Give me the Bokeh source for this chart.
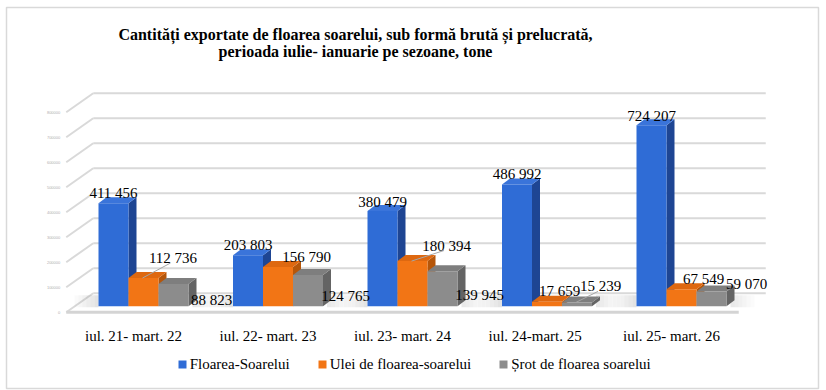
from bokeh.plotting import figure
from bokeh.models import Range1d, Legend, LegendItem
from bokeh.core.properties import value
from bokeh.embed import file_html
from bokeh.resources import INLINE

# ---------------- data ----------------
categories = ["iul. 21- mart. 22", "iul. 22- mart. 23", "iul. 23- mart. 24",
              "iul. 24-mart.  25", "iul. 25- mart. 26"]
series_names = ["Floarea-Soarelui", "Ulei de floarea-soarelui", "Șrot de floarea soarelui"]
floarea = [411456, 203803, 380479, 486992, 724207]
ulei = [112736, 156790, 180394, 17659, 67549]
srot = [88823, 124765, 139945, 15239, 59070]
y_ticks = [0, 100000, 200000, 300000, 400000, 500000, 600000, 700000, 800000]
title_lines = ["Cantități exportate de floarea soarelui, sub formă brută și prelucrată,",
               "perioada iulie- ianuarie pe sezoane, tone"]

# ---------------- layout / style ----------------
PX_CAT = 134.5          # px per category unit
PX_T = 0.00025          # px per tonne
W, H = 826, 390
FL, FT, FR, FB = 6, 7, 818, 388   # frame edges (page px)
CAT0_PAGE_X = 133.0
ZERO_PAGE_Y = 311.7

def px_x(px):
    return px / PX_CAT

def px_y(px):
    return px / PX_T

BAR_W = 30
BAR_OFF = [-35, -5, 25]
BASE = px_y(6)
DDX, DDY = px_x(8), px_y(6)
WALL_DX, WALL_DY = px_x(27), px_y(19)

front_col = ["#2F6CD6", "#F27515", "#8C8C8C"]
side_col = ["#1E4593", "#B5560A", "#646464"]
top_col = ["#3A74DA", "#DE6810", "#7E7E7E"]

# label offsets (px): dx from bar centre, dy (down-positive) of baseline from bar front top
lab_dx = [[0, 0, 0, 0, 0], [29.5, 28.5, 34, 12.5, 22], [38, 37.5, 37, 23.5, 35]]
lab_dy = [[-10, -10, -9.5, -10, -9], [-20, -10.5, -15.6, -11, -10.5], [15.8, 20.5, 23.3, -16, -7.6]]
leader = [[0, 0, 0, 0, 0], [1, 0, 1, 0, 0], [0, 0, 0, 1, 0]]

x0 = (FL - CAT0_PAGE_X) / PX_CAT
x1 = (FR - CAT0_PAGE_X) / PX_CAT
y1 = (ZERO_PAGE_Y - FT) / PX_T
y0 = (ZERO_PAGE_Y - FB) / PX_T

p = figure(width=W, height=H, output_backend="svg", toolbar_location=None,
           x_axis_type=None, y_axis_type=None,
           min_border_left=FL, min_border_top=FT, min_border_right=W - FR, min_border_bottom=H - FB,
           x_range=Range1d(x0, x1), y_range=Range1d(y0, y1))
p.grid.visible = False
p.outline_line_color = "#D9D9D9"
p.outline_line_width = 1.5
p.background_fill_color = "white"
p.border_fill_color = "white"

n = len(categories)
left_edge, right_edge = -0.5, n - 0.5

# back-wall gridlines and left-wall diagonals
p.segment(x0=[left_edge + WALL_DX] * len(y_ticks), y0=[t + WALL_DY for t in y_ticks],
          x1=[right_edge + WALL_DX] * len(y_ticks), y1=[t + WALL_DY for t in y_ticks],
          line_color="#D9D9D9", line_width=2)
p.segment(x0=[left_edge] * len(y_ticks), y0=y_ticks,
          x1=[left_edge + WALL_DX] * len(y_ticks), y1=[t + WALL_DY for t in y_ticks],
          line_color="#D9D9D9", line_width=2)
# floor front edge
p.segment(x0=[left_edge], y0=[0], x1=[right_edge], y1=[0], line_color="#D4D4D4", line_width=3)

# tiny tick labels
p.text(x=[left_edge - px_x(6)] * len(y_ticks), y=y_ticks, text=[str(t) for t in y_ticks],
       text_font=value("Liberation Sans"), text_font_size="4px", text_color="#B0B0B0",
       text_align="right", text_baseline="middle")

# floor shadows (faked gradient strips)
for i in range(n):
    for s in range(6):
        a = 0.035 * (s + 1)
        l = i + px_x(BAR_OFF[0] - 24 + 4 * s)
        p.quad(left=[l], right=[l + px_x(4)], bottom=[px_y(5)], top=[px_y(17)],
               fill_color="#7A7A7A", fill_alpha=a, line_color=None)
        r = i + px_x(BAR_OFF[2] + BAR_W + 8 + 20 - 4 * s)
        p.quad(left=[r - px_x(4)], right=[r], bottom=[px_y(5)], top=[px_y(17)],
               fill_color="#7A7A7A", fill_alpha=a * 0.8, line_color=None)

# bars
series = [floarea, ulei, srot]
fronts = []
for k, vals in enumerate(series):
    lefts = [i + px_x(BAR_OFF[k]) for i in range(n)]
    rights = [l + px_x(BAR_W) for l in lefts]
    tops = [BASE + v for v in vals]
    side_xs = [[r, r + DDX, r + DDX, r] for r in rights]
    side_ys = [[BASE, BASE + DDY, t + DDY, t] for t in tops]
    top_xs = [[l, r, r + DDX, l + DDX] for l, r in zip(lefts, rights)]
    top_ys = [[t, t, t + DDY, t + DDY] for t in tops]
    p.patches(side_xs, side_ys, fill_color=side_col[k], line_color=None)
    p.patches(top_xs, top_ys, fill_color=top_col[k], line_color=None)
    fr = p.quad(left=lefts, right=rights, bottom=[BASE] * n, top=tops,
                fill_color=front_col[k], line_color=None)
    fronts.append(fr)

# data labels + leaders
for k, vals in enumerate(series):
    cx = [i + px_x(BAR_OFF[k] + BAR_W / 2 + lab_dx[k][i]) for i in range(n)]
    cy = [BASE + v - px_y(lab_dy[k][i]) for i, v in enumerate(vals)]
    txt = [f"{v:,}".replace(",", " ") for v in vals]
    p.text(x=cx, y=cy, text=txt, text_font=value("Liberation Serif"), text_font_size="15px",
           text_color="#000000", text_align="center", text_baseline="alphabetic")
    for i, v in enumerate(vals):
        if leader[k][i]:
            sx = i + px_x(BAR_OFF[k] + BAR_W / 2 - 1)
            sy = BASE + v
            p.segment(x0=[sx], y0=[sy], x1=[cx[i] - px_x(2.5)], y1=[cy[i] - px_y(5)],
                      line_color="#A6A6A6", line_width=1)

# category labels
p.text(x=list(range(n)), y=[(ZERO_PAGE_Y - 335) / PX_T] * n, text=categories,
       text_font=value("Liberation Serif"), text_font_size="15px", text_color="#000000",
       text_align="center", text_baseline="alphabetic")

# title
title_x = (355 - CAT0_PAGE_X) / PX_CAT
p.text(x=[title_x, title_x], y=[(ZERO_PAGE_Y - 33.5) / PX_T, (ZERO_PAGE_Y - 50.5) / PX_T],
       text=title_lines, text_font=value("Liberation Serif"), text_font_size="16px",
       text_font_style="bold", text_color="#000000", text_align="center",
       text_baseline="alphabetic")

legend = Legend(items=[LegendItem(label=series_names[k], renderers=[fronts[k]]) for k in range(3)],
                location=(176.7 - FL, FB - 364 - 10), orientation="horizontal", padding=0, margin=0,
                spacing=27, glyph_width=10, glyph_height=10, label_standoff=3,
                label_height=20, label_text_font="Liberation Serif", label_text_font_size="15px",
                label_text_color="#000000", border_line_color=None, background_fill_alpha=0)
p.add_layout(legend)

open("out.html", "w").write(file_html(p, INLINE))
